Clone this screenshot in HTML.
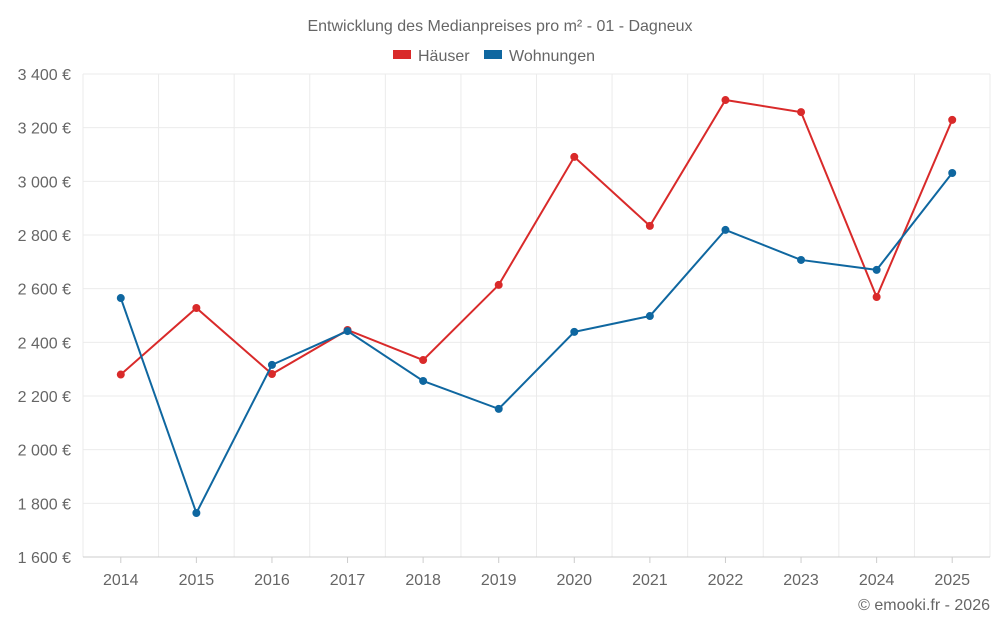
<!DOCTYPE html>
<html><head><meta charset="utf-8"><style>
body{margin:0;background:#fff;font-family:"Liberation Sans",sans-serif;}
svg text{font-family:"Liberation Sans",sans-serif;fill:#666;}
</style></head><body>
<svg id="chart" width="1000" height="625" viewBox="0 0 1000 625" xmlns="http://www.w3.org/2000/svg">
<text x="500" y="31" text-anchor="middle" font-size="16">Entwicklung des Medianpreises pro m² - 01 - Dagneux</text>
<g>
<g><rect x="393" y="50" width="18" height="9" fill="#d92a2a"/><text x="418" y="61" font-size="16">Häuser</text></g>
<g><rect x="484" y="50" width="18" height="9" fill="#0f67a0"/><text x="509" y="61" font-size="16">Wohnungen</text></g>
</g>
<g id="grid"></g><g id="axes"></g><g id="series"></g>
<text x="990" y="610" text-anchor="end" font-size="16">© emooki.fr - 2026</text>
</svg>
<script>
const years=[2014,2015,2016,2017,2018,2019,2020,2021,2022,2023,2024,2025];
const haeuser=[2280,2528,2282,2446,2334,2614,3091,2834,3303,3258,2569,3229];
const wohnungen=[2565,1764,2316,2442,2256,2152,2439,2498,2819,2707,2670,3031];
const yTicks=[1600,1800,2000,2200,2400,2600,2800,3000,3200,3400];
const yTickLabels=["1 600 €","1 800 €","2 000 €","2 200 €","2 400 €","2 600 €","2 800 €","3 000 €","3 200 €","3 400 €"];
const L=83,R=990,T=74,B=557,yMin=1600,yMax=3400;
const step=(R-L)/years.length;
const x=i=>L+step*(i+0.5);
const y=v=>B-(v-yMin)/(yMax-yMin)*(B-T);
const NS="http://www.w3.org/2000/svg";
function mk(tag,attrs,parent){const e=document.createElementNS(NS,tag);for(const k in attrs)e.setAttribute(k,attrs[k]);parent.appendChild(e);return e;}
const grid=document.getElementById('grid'),axes=document.getElementById('axes'),series=document.getElementById('series');
yTicks.forEach((t,i)=>{
 const l=mk('line',{x1:L,x2:R,y1:y(t),y2:y(t),stroke:'#ebebeb'},grid);
 
 
 const tx=mk('text',{x:71,y:y(t)+6,'text-anchor':'end','font-size':'16'},axes);
 tx.textContent=yTickLabels[i];
 
 
});
for(let i=0;i<=years.length;i++){
 const gx=L+step*i;
 const l=mk('line',{x1:gx,x2:gx,y1:T,y2:B,stroke:'#ebebeb'},grid);
 
 
}
const ax=mk('line',{x1:L,x2:R,y1:B,y2:B,stroke:'#ccc'},axes);


years.forEach((yr,i)=>{
 const tk=mk('line',{x1:x(i),x2:x(i),y1:B,y2:B+6,stroke:'#ccc'},axes);
 
 
 const tx=mk('text',{x:x(i),y:585,'text-anchor':'middle','font-size':'16'},axes);
 tx.textContent=yr;
 
 
});
function draw(vals,color,name){
 const p=mk('polyline',{points:vals.map((v,i)=>x(i)+','+y(v)).join(' '),fill:'none',stroke:color,'stroke-width':2},series);
 
 
 vals.forEach((v,i)=>{
  const c=mk('circle',{cx:x(i),cy:y(v),r:4,fill:color},series);
  
  
 });
}
draw(haeuser,'#d92a2a','haeuser');
draw(wohnungen,'#0f67a0','wohnungen');
</script>
</body></html>
